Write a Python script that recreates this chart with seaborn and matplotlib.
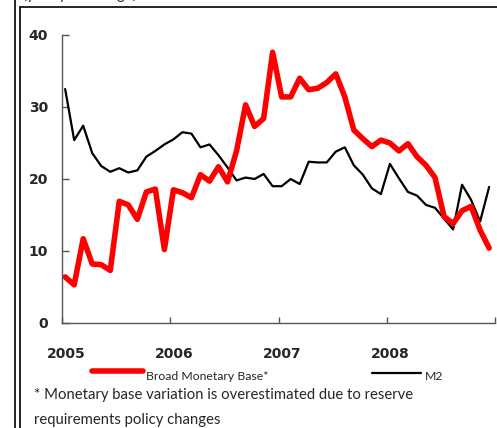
import numpy as np
import pandas as pd
import matplotlib
matplotlib.use("Agg")
import matplotlib.pyplot as plt
import matplotlib.transforms as mtransforms
from matplotlib.lines import Line2D
import seaborn as sns

# ---- data (monthly, Jan 2005 - Dec 2008) ----
broad_base = [6.4, 5.3, 11.7, 8.2, 8.1, 7.3, 16.9, 16.4, 14.4, 18.2, 18.6, 10.2,
              18.5, 18.1, 17.4, 20.6, 19.7, 21.7, 19.6, 23.9, 30.3, 27.3, 28.4, 37.6,
              31.4, 31.4, 34.0, 32.4, 32.6, 33.4, 34.6, 31.4, 26.8, 25.6, 24.5, 25.4,
              25.0, 23.9, 24.9, 23.1, 21.9, 20.2, 14.8, 13.8, 15.6, 16.2, 12.9, 10.4]
m2 = [32.5, 25.4, 27.4, 23.6, 21.8, 21.0, 21.5, 20.9, 21.2, 23.1, 23.9, 24.8,
      25.5, 26.5, 26.3, 24.4, 24.8, 23.3, 21.6, 19.8, 20.2, 20.0, 20.7, 19.0,
      19.0, 20.0, 19.3, 22.4, 22.3, 22.3, 23.8, 24.4, 21.9, 20.6, 18.7, 17.9,
      22.1, 20.1, 18.2, 17.7, 16.4, 16.0, 14.5, 13.0, 19.2, 17.1, 14.1, 18.9]
month_index = list(range(48))
year_ticks = [2005, 2006, 2007, 2008, 2009]
year_labels = ["2005", "2006", "2007", "2008", ""]
y_ticks = [0, 10, 20, 30, 40]
series_names = ["Broad Monetary Base*", "M2"]

t = [2005 + (i + 0.35) / 12 for i in month_index]
df = pd.DataFrame({
    "t": t * 2,
    "value": broad_base + m2,
    "series": [series_names[0]] * 48 + [series_names[1]] * 48,
})

sns.set_theme(style="white")
plt.rcParams["font.family"] = ["DejaVu Sans"]

W, H = 497, 428
fig = plt.figure(figsize=(W / 100, H / 100), dpi=100)
ax = fig.add_axes([62 / W, (H - 323) / H, (495 - 62) / W, (323 - 35) / H])

sns.lineplot(data=df[df.series == series_names[1]], x="t", y="value",
             color="black", linewidth=1.6, ax=ax, legend=False)
sns.lineplot(data=df[df.series == series_names[0]], x="t", y="value",
             color="#ff0000", linewidth=4.0, ax=ax, legend=False)

ax.set_xlim(2005, 2009)
ax.set_ylim(0, 40)
ax.set_xlabel("")
ax.set_ylabel("")
ax.set_xticks(year_ticks)
ax.set_xticklabels(year_labels, fontsize=10, fontweight="bold")
ax.set_yticks(y_ticks)
ax.set_yticklabels([str(v) for v in y_ticks], fontsize=10, fontweight="bold")
for s in ["top", "right"]:
    ax.spines[s].set_visible(False)
for s in ["left", "bottom"]:
    ax.spines[s].set_color("#555555")
    ax.spines[s].set_linewidth(1.0)
ax.tick_params(axis="y", direction="in", length=5, width=1, color="#555555", pad=10)
ax.tick_params(axis="x", direction="in", length=4, width=1, color="#555555", pad=17)
ax.tick_params(left=True, bottom=True)
off = mtransforms.ScaledTranslation(4 / 100, 0, fig.dpi_scale_trans)
for lab in ax.get_xticklabels():
    lab.set_transform(lab.get_transform() + off)

# ---- legend (manual) ----
def fx(px):
    return px / W

def fy(py):
    return 1 - py / H

fig.add_artist(Line2D([fx(92), fx(143)], [fy(371), fy(371)], color="#ff0000",
                      linewidth=4.0, solid_capstyle="round"))
fig.text(fx(146), fy(376), series_names[0], fontsize=8.8, family=["Lato", "DejaVu Sans"],
         va="center", ha="left")
fig.add_artist(Line2D([fx(372), fx(421)], [fy(373), fy(373)], color="black",
                      linewidth=1.6))
fig.text(fx(425), fy(376), series_names[1], fontsize=8.8, family=["Lato", "DejaVu Sans"],
         va="center", ha="left")

# ---- footnote ----
fig.text(fx(34), fy(395), "* Monetary base variation is overestimated due to reserve",
         fontsize=10.7, family=["Lato", "DejaVu Sans"], va="center", ha="left")
fig.text(fx(34), fy(420), "requirements policy changes",
         fontsize=10.7, family=["Lato", "DejaVu Sans"], va="center", ha="left")

# ---- clipped title at top (cut off in the reference as well) ----
fig.text(fx(23), fy(-6), "(yearly % change)", fontsize=10.7,
         family=["Lato", "DejaVu Sans"], va="center", ha="left")

# ---- frame lines ----
fig.add_artist(Line2D([fx(14.5), fx(14.5)], [0, 1], color="black", linewidth=1.2))
fig.add_artist(Line2D([fx(19.5), fx(19.5)], [0, fy(6.5)], color="black", linewidth=1.2))
fig.add_artist(Line2D([fx(19.5), 1], [fy(6.5), fy(6.5)], color="black", linewidth=1.2))

fig.savefig("out.png", dpi=100)
